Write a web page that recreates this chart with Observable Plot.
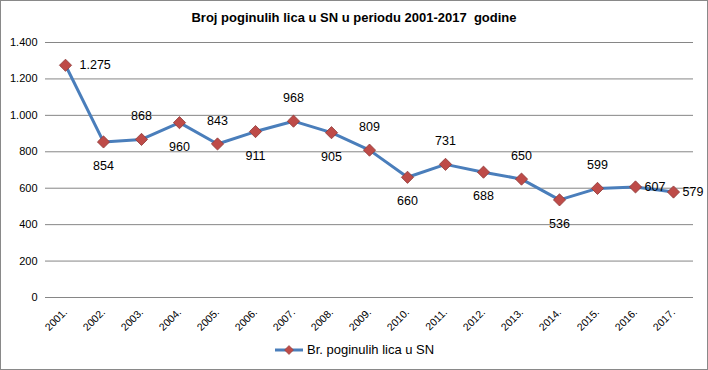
<!DOCTYPE html>
<html><head><meta charset="utf-8">
<script src="https://cdn.jsdelivr.net/npm/d3@7"></script>
<script src="https://cdn.jsdelivr.net/npm/@observablehq/plot@0.6"></script>
<style>
body{margin:0;background:#fff;}
#chart{position:relative;width:708px;height:370px;font-family:"Liberation Sans",Arial,sans-serif;color:#000;}
#frame{position:absolute;left:0;top:0;width:706px;height:368px;border:1px solid #898989;pointer-events:none;}
#title{position:absolute;left:0;width:708px;top:10px;text-align:center;font-weight:bold;font-size:13px;line-height:16px;white-space:pre;}
#legend{position:absolute;left:275px;top:342px;font-size:13px;line-height:16px;display:flex;align-items:center;}
#legend svg{margin-right:2px;}
#plot{position:absolute;left:0;top:0;}
</style>
</head><body>
<div id="chart"><div id="plot"></div><div id="title"></div><div id="legend"></div><div id="frame"></div></div>
<script>
const years = ["2001.","2002.","2003.","2004.","2005.","2006.","2007.","2008.","2009.","2010.","2011.","2012.","2013.","2014.","2015.","2016.","2017."];
const values = [1275,854,868,960,843,911,968,905,809,660,731,688,650,536,599,607,579];
const yTicks = [0,200,400,600,800,1000,1200,1400];
const titleText = "Broj poginulih lica u SN u periodu 2001-2017  godine";
const seriesName = "Br. poginulih lica u SN";

const locale = d3.formatLocale({decimal:",", thousands:".", grouping:[3], currency:["","€"]});
const fmt = locale.format(",d");
const n = years.length;
// label placement rule: first label right, last two to the right, others alternate below/above
const data = years.map((year,i)=>({year, value: values[i],
  pos: i===0 ? "right" : (i>=n-2 ? "end" : (i%2 ? "below" : "above"))}));

const lineColor = "#4A7EBB", markFill = "#BE4B48", markStroke = "#8E3A38";

const chart = Plot.plot({
  width:708, height:370,
  marginLeft:45, marginRight:15, marginTop:42, marginBottom:73,
  style:{fontFamily:"'Liberation Sans', Arial, sans-serif", fontSize:"11px", background:"transparent", color:"#000"},
  x:{type:"point", domain:years, padding:0.5, label:null},
  y:{domain:[0,1400], label:null},
  marks:[
    Plot.gridY(yTicks,{stroke:"#868686", strokeOpacity:1}),
    Plot.axisY(yTicks,{tickSize:0, tickPadding:8, tickFormat:fmt, fontSize:11, label:null}),
    Plot.axisX({tickSize:0, tickRotate:-45, fontSize:10.5, tickPadding:13, label:null}),
    Plot.line(data,{x:"year", y:"value", stroke:lineColor, strokeWidth:3}),
    Plot.dot(data,{x:"year", y:"value", symbol:"diamond2", r:5.5, fill:markFill, stroke:markStroke, strokeWidth:0.8}),
    Plot.text(data,{filter:d=>d.pos==="above", x:"year", y:"value", text:d=>fmt(d.value), dy:-23, fontSize:12.5}),
    Plot.text(data,{filter:d=>d.pos==="below", x:"year", y:"value", text:d=>fmt(d.value), dy:24, fontSize:12.5}),
    Plot.text(data,{filter:d=>d.pos==="right", x:"year", y:"value", text:d=>fmt(d.value), dx:14, textAnchor:"start", fontSize:12.5}),
    Plot.text(data,{filter:d=>d.pos==="end", x:"year", y:"value", text:d=>fmt(d.value), dx:9, textAnchor:"start", fontSize:12.5})
  ]
});
document.getElementById("plot").appendChild(chart);
document.getElementById("title").textContent = titleText;
const lg = document.getElementById("legend");
lg.innerHTML = `<svg width="30" height="12"><line x1="0" y1="6" x2="28" y2="6" stroke="${lineColor}" stroke-width="3"/><path d="M14,1.5L18.5,6L14,10.5L9.5,6Z" fill="${markFill}" stroke="${markStroke}" stroke-width="0.6"/></svg>`;
const sp = document.createElement("span"); sp.textContent = seriesName; lg.appendChild(sp);
</script>
</body></html>
